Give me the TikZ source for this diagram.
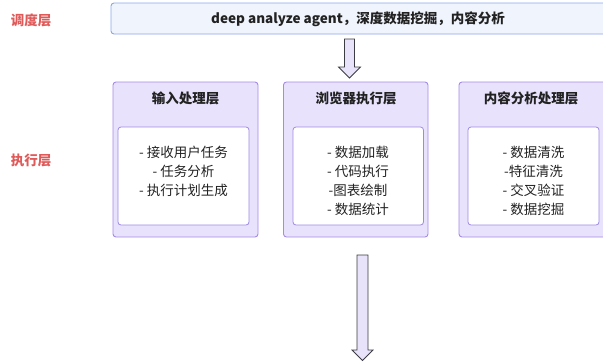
\documentclass[tikz,border=0pt]{standalone}
\usepackage{fontspec}
\setmainfont{Noto Sans CJK SC}
\newfontfamily\cjk{Noto Sans CJK SC}
\usetikzlibrary{positioning}

\definecolor{topfill}{HTML}{EFF4FD}
\definecolor{topline}{HTML}{8CA6E6}
\definecolor{layerfill}{HTML}{E9E2FC}
\definecolor{layerline}{HTML}{A48BE6}
\definecolor{innerline}{HTML}{9F88E2}
\definecolor{arrowfill}{HTML}{E8E2FA}
\definecolor{arrowline}{HTML}{3C3C44}
\definecolor{tierred}{HTML}{E05A5A}
\definecolor{ink}{HTML}{222222}

\tikzset{
  tierlabel/.style={text=tierred, font=\cjk\fontsize{13.5}{16}\selectfont\bfseries, inner sep=0},
  topbox/.style={draw=topline, fill=topfill, line width=0.9pt, rounded corners=3pt},
  layerbox/.style={draw=layerline, fill=layerfill, line width=0.9pt, rounded corners=3pt},
  innerbox/.style={draw=innerline, fill=white, line width=0.8pt, rounded corners=3pt},
  boxtitle/.style={text=ink, font=\cjk\fontsize{13.5}{16}\selectfont\bfseries, inner sep=0},
  boxitems/.style={text=ink, font=\cjk\fontsize{13.5}{19.3}\selectfont, align=center, inner sep=0, anchor=north},
  blockarrow/.style={draw=arrowline, fill=arrowfill, line width=0.8pt, line join=miter},
}

\begin{document}
\begin{tikzpicture}[x=1pt, y=-1pt]
  \useasboundingbox (0,0) rectangle (603,362);

  % tier labels
  \node[tierlabel] (tierTop) at (31,20) {调度层};
  \node[tierlabel] (tierExec) at (31,160) {执行层};

  % scheduler bar
  \draw[topbox] (111,3) rectangle (612,34);
  \node[text=ink, font=\cjk\fontsize{13.5}{16}\selectfont\bfseries, inner sep=0] (agent) at (358,19.5)
    {deep analyze agent，深度数据挖掘，内容分析};

  % execution layers
  \draw[layerbox] (113,82) rectangle (258,237);
  \draw[innerbox] (118,127) rectangle (249,225);
  \node[boxtitle] (inputTitle) at (185.5,98) {输入处理层};
  \node[boxitems] (inputItems) at (183.5,145.5) {- 接收用户任务\\- 任务分析\\- 执行计划生成};

  \draw[layerbox] (283.5,82) rectangle (428,237);
  \draw[innerbox] (293,127) rectangle (423.5,225);
  \node[boxtitle] (browserTitle) at (356,98) {浏览器执行层};
  \node[boxitems] (browserItems) at (358,145.5) {- 数据加载\\- 代码执行\\-图表绘制\\- 数据统计};

  \draw[layerbox] (459,82) rectangle (606,237);
  \draw[innerbox] (468,127) rectangle (599,225);
  \node[boxtitle] (contentTitle) at (531,98) {内容分析处理层};
  \node[boxitems] (contentItems) at (533.5,145.5) {- 数据清洗\\-特征清洗\\- 交叉验证\\- 数据挖掘};

  % block arrows
  \coordinate (downA) at (349.5,39);
  \draw[blockarrow] (downA) ++(-5,0) -- ++(10,0) -- ++(0,28) -- ++(6,0)
    -- ++(-11,11) -- ++(-11,-11) -- ++(6,0) -- cycle;

  \coordinate (downB) at (362.5,255);
  \draw[blockarrow] (downB) ++(-5.5,0) -- ++(11,0) -- ++(0,95) -- ++(5,0)
    -- ++(-10.5,10.5) -- ++(-10.5,-10.5) -- ++(5,0) -- cycle;
\end{tikzpicture}
\end{document}
